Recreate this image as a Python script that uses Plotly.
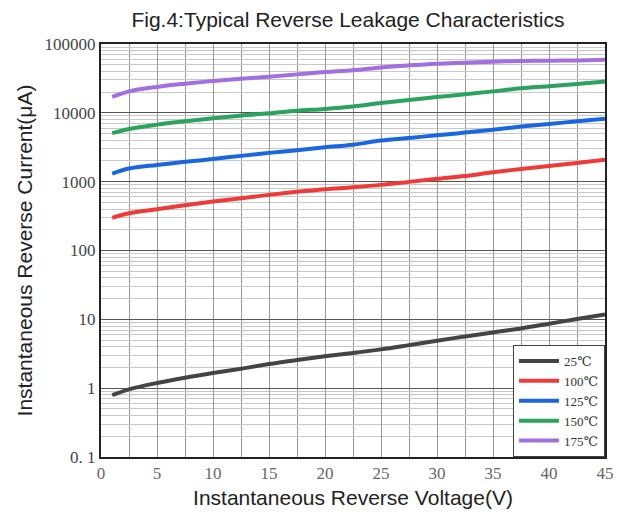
import plotly.graph_objects as go

voltage = [1, 2.5, 5, 7.5, 10, 12.5, 15, 17.5, 20, 22.5, 25, 27.5, 30, 32.5, 35, 37.5, 40, 42.5, 45]
i_25 = [0.79, 0.96, 1.19, 1.42, 1.66, 1.92, 2.24, 2.56, 2.90, 3.24, 3.66, 4.22, 4.89, 5.65, 6.46, 7.38, 8.63, 10.1, 11.8]
i_100 = [298, 347, 397, 454, 514, 574, 643, 711, 776, 830, 898, 993, 1100, 1210, 1370, 1530, 1690, 1870, 2090]
i_125 = [1310, 1550, 1750, 1940, 2140, 2370, 2620, 2860, 3160, 3450, 3950, 4320, 4710, 5160, 5700, 6310, 6900, 7530, 8240]
i_150 = [5060, 5830, 6740, 7530, 8320, 9120, 9840, 10700, 11400, 12400, 13900, 15400, 17000, 18600, 20500, 22700, 24300, 26300, 28600]
i_175 = [17000, 20500, 23800, 26500, 29000, 31300, 33500, 36200, 39200, 41400, 45700, 49000, 51800, 53600, 55400, 56600, 57300, 57800, 59200]

series_names = ["25℃", "100℃", "125℃", "150℃", "175℃"]
series_colors = ["#444444", "#f03a3a", "#1a66e0", "#2aa35c", "#a26ee0"]
series_values = [i_25, i_100, i_125, i_150, i_175]

y_tickvals = [0.1, 1, 10, 100, 1000, 10000, 100000]
y_ticktext = ["0. 1", "1", "10", "100", "1000", "10000", "100000"]
x_tickvals = [0, 5, 10, 15, 20, 25, 30, 35, 40, 45]

fig = go.Figure()
for name, color, vals in zip(series_names, series_colors, series_values):
    fig.add_trace(go.Scatter(x=voltage, y=vals, mode="lines", name=name,
                             line=dict(color=color, width=4, shape="spline")))

serif = "Liberation Serif, DejaVu Serif, serif"
sans = "Liberation Sans, Arial, sans-serif"

fig.update_layout(
    width=621, height=511,
    margin=dict(l=93, r=24, t=36, b=62),
    paper_bgcolor="white", plot_bgcolor="white",
    title=dict(text="Fig.4:Typical Reverse Leakage Characteristics",
               font=dict(family=sans, size=21, color="#222"),
               x=0.49, xref="paper", xanchor="center",
               y=0.992, yref="container", yanchor="top"),
    showlegend=True,
    legend=dict(x=1, y=0, xanchor="right", yanchor="bottom",
                bgcolor="white", bordercolor="#444", borderwidth=1,
                font=dict(family=serif, size=13, color="#333"),
                tracegroupgap=0, itemwidth=40),
    xaxis=dict(range=[0, 45], tickvals=x_tickvals, ticks="",
               tickfont=dict(family=serif, size=17, color="#666"),
               showgrid=True, gridcolor="#999", gridwidth=1,
               minor=dict(dtick=2.5, showgrid=True, gridcolor="#999", gridwidth=1),
               showline=True, linecolor="#222", linewidth=2, mirror=True,
               zeroline=False,
               title=dict(text="Instantaneous Reverse Voltage(V)",
                          font=dict(family=sans, size=21, color="#222"), standoff=8)),
    yaxis=dict(type="log", range=[-1, 5], tickvals=y_tickvals, ticktext=y_ticktext,
               ticks="", tickfont=dict(family=serif, size=17, color="#444"),
               showgrid=True, gridcolor="#555", gridwidth=1,
               minor=dict(dtick="D1", showgrid=True, gridcolor="#c8c8c8", gridwidth=1),
               showline=True, linecolor="#222", linewidth=2, mirror=True,
               zeroline=False,
               title=dict(text="Instantaneous Reverse Current(μA)",
                          font=dict(family=sans, size=21, color="#222"), standoff=6)),
)

fig.write_html("out.html")
